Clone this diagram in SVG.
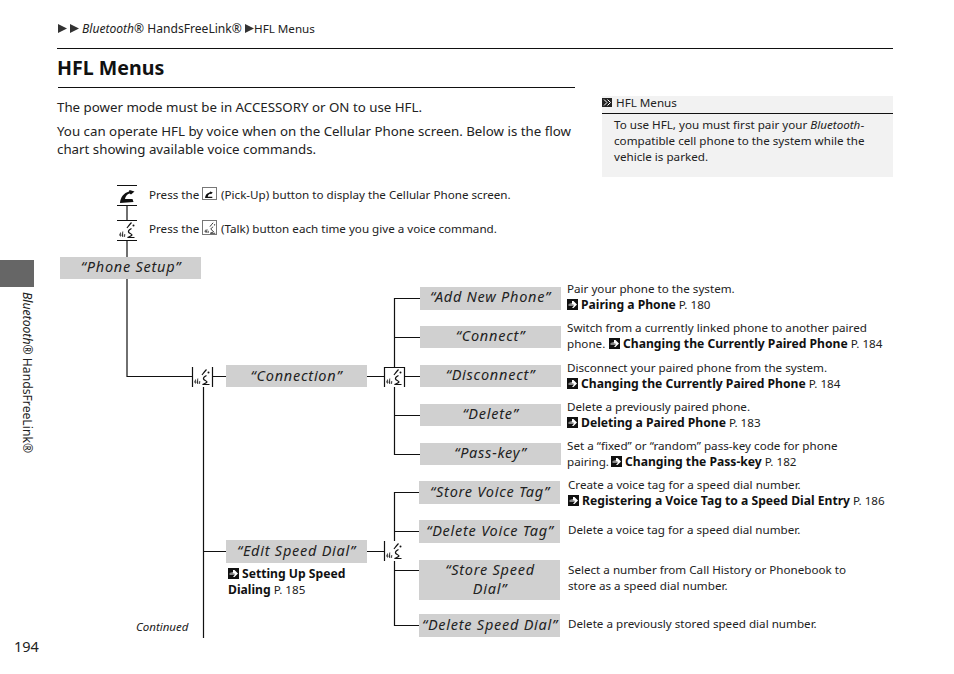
<svg xmlns="http://www.w3.org/2000/svg" width="954" height="674" viewBox="0 0 954 674">
<style>
text{font-family:"Noto Sans","Open Sans","Liberation Sans",sans-serif;fill:#222}
.b{font-size:13.300px}
.s{font-size:11.650px}
.h{font-size:12.100px}
.l{font-size:14.500px;letter-spacing:.75px;font-style:italic;text-anchor:middle}
.n{fill:#d0d0d0}
.w{stroke:#111;stroke-width:1.200;fill:none}
.bd{font-weight:700;fill:#111;font-size:12.150px}
.i{font-style:italic}
</style>
<defs>
<g id="voice">
<path d="M2.500 15l1-2.500v4zM4.800 15.500l1-4v5.500zM7 16.500l.8-2.500v2.500z" fill="#111" stroke="#111" stroke-width=".4"/>
<path d="M10 8c1.500-2 2.500-3.500 4.500-5.500M14.500 8.500c-2 1-3.500 2-3 3.500c.5 1.500 3 1.500 3.500 3c-.5 1-2.500 1.500-4.500 2.500h7" fill="none" stroke="#111" stroke-width="1.200"/>
<circle cx="16.500" cy="5.500" r="1" fill="#111"/>
</g>
<g id="go">
<rect width="11" height="11" fill="#111"/>
<path d="M1.500 4.500h3.500v-2.500h1.500l3.500 3.500-3.500 3.500h-1.500l2-2.500h-5.500v-1h6z" fill="#fff"/>
</g>
<g id="tri"><path d="M0 0l9 4.500-9 4.500z" fill="#333"/></g>
</defs>

<g id="page-header">
<use href="#tri" x="58" y="24"/><use href="#tri" x="70" y="24"/>
<text x="82" y="33" class="h"><tspan class="i">Bluetooth</tspan>® HandsFreeLink®</text>
<use href="#tri" x="245" y="24"/>
<text x="254" y="33" class="s">HFL Menus</text>
<path d="M57 48.500H893" stroke="#111" stroke-width="1.200"/>
<text x="57" y="75" style="font-size:19.600px;font-weight:700;fill:#111">HFL Menus</text>
<path d="M58 87.500H575" stroke="#111" stroke-width="1.200"/>
</g>

<g id="intro">
<text x="57" y="112" class="b">The power mode must be in ACCESSORY or ON to use HFL.</text>
<text x="57" y="136" class="b">You can operate HFL by voice when on the Cellular Phone screen. Below is the flow</text>
<text x="57" y="154" class="b">chart showing available voice commands.</text>
</g>

<g id="side-note">
<rect x="602" y="96" width="291" height="81" fill="#f2f2f2"/>
<path d="M602 113.500H893" stroke="#111" stroke-width="1.200"/>
<rect x="602" y="98" width="10" height="9" fill="#222"/>
<path d="M604 99.500l3 3-3 3M607.500 99.500l3 3-3 3" stroke="#fff" fill="none"/>
<text x="616" y="107" class="s">HFL Menus</text>
<text x="614" y="129" class="s">To use HFL, you must first pair your <tspan class="i">Bluetooth</tspan>-</text>
<text x="614" y="145" class="s">compatible cell phone to the system while the</text>
<text x="614" y="161" class="s">vehicle is parked.</text>
</g>

<g id="tab">
<rect x="0" y="260" width="34" height="27" fill="#666"/>
<text transform="translate(23 292) rotate(90)" style="font-size:12.200px"><tspan class="i">Bluetooth</tspan>® HandsFreeLink®</text>
</g>

<g id="connectors" class="w">
<path d="M117 185.500H137M117 205.500H137M127 205V220M117 220.500H137M117 240.500H137M127 240V257M127 279V376.500H192"/>
<path d="M192.500 367V387M212.500 367V387M212 376.500H226M203.500 387V638M203 551.500H226"/>
<path d="M367 376.500H384M384.500 387V367.500H404.500V387M404 376.500H420"/>
<path d="M394.500 367V298.500H420M394 337.500H420M394.500 387V454.500H420M394 415.500H420"/>
<path d="M367 551.500H384M384.500 541V561"/>
<path d="M394.500 541V492.500H419M394 531.500H419M394.500 561V625.500H419M394 570.500H419"/>
</g>

<g id="legend-pickup">
<path d="M120 203c.5-6 4-10 9-11.500l.5-1.500 5 1.500-3.500 3-1.500-1c-2.500 .8-4 2.500-4.500 5.500h7.500l1 3z" fill="#111"/>
<rect x="202.500" y="187.500" width="14" height="12" fill="#fff" stroke="#777"/>
<path d="M205 198c.2-3 2-5 4.500-5.500l.8-1 2.500 1-1.800 1.800-1-.6c-1 .4-2 1.300-2.200 3h4.500v1.300z" fill="#111"/>
<text x="149" y="199" class="s">Press the</text>
<text x="221" y="199" class="s">(Pick-Up) button to display the Cellular Phone screen.</text>
</g>
<g id="legend-talk">
<use href="#voice" x="117" y="220"/>
<rect x="202.500" y="220.500" width="14" height="14" fill="#fff" stroke="#777"/>
<use href="#voice" transform="translate(203 221) scale(.7)"/>
<text x="149" y="233" class="s">Press the</text>
<text x="221" y="233" class="s">(Talk) button each time you give a voice command.</text>
</g>

<g id="node-phone-setup"><rect class="n" x="60" y="257" width="141" height="22"/><text class="l" x="131" y="272">“Phone Setup”</text></g>
<g id="node-connection"><use href="#voice" x="192" y="367"/><rect class="n" x="226" y="365" width="141" height="22"/><text class="l" x="296.500" y="381">“Connection”</text></g>
<g id="node-edit-speed-dial"><rect class="n" x="226" y="540" width="141" height="23"/><text class="l" x="296.500" y="556">“Edit Speed Dial”</text>
<use href="#go" x="228" y="568"/>
<text x="242" y="578" class="bd">Setting Up Speed</text>
<text x="228" y="594" class="s"><tspan class="bd">Dialing</tspan> P. 185</text>
</g>
<g id="voice-connection"><use href="#voice" x="384" y="367"/></g>
<g id="voice-speed-dial"><use href="#voice" x="384" y="541"/></g>

<g id="node-add-new-phone"><rect class="n" x="420" y="287" width="141" height="23"/><text class="l" x="490.500" y="302">“Add New Phone”</text>
<text x="567" y="293" class="s">Pair your phone to the system.</text>
<use href="#go" x="567" y="299"/><text x="581" y="309" class="s"><tspan class="bd">Pairing a Phone</tspan> P. 180</text></g>
<g id="node-connect"><rect class="n" x="420" y="326" width="141" height="22"/><text class="l" x="490.500" y="341">“Connect”</text>
<text x="567" y="332" class="s">Switch from a currently linked phone to another paired</text>
<text x="567" y="348" class="s">phone.</text><use href="#go" x="609" y="338"/><text x="623" y="348" class="s"><tspan class="bd">Changing the Currently Paired Phone</tspan> P. 184</text></g>
<g id="node-disconnect"><rect class="n" x="420" y="365" width="141" height="22"/><text class="l" x="490.500" y="380">“Disconnect”</text>
<text x="567" y="372" class="s">Disconnect your paired phone from the system.</text>
<use href="#go" x="567" y="378"/><text x="581" y="388" class="s"><tspan class="bd">Changing the Currently Paired Phone</tspan> P. 184</text></g>
<g id="node-delete"><rect class="n" x="420" y="404" width="141" height="22"/><text class="l" x="490.500" y="419">“Delete”</text>
<text x="567" y="411" class="s">Delete a previously paired phone.</text>
<use href="#go" x="567" y="417"/><text x="581" y="427" class="s"><tspan class="bd">Deleting a Paired Phone</tspan> P. 183</text></g>
<g id="node-pass-key"><rect class="n" x="420" y="443" width="141" height="22"/><text class="l" x="490.500" y="458">“Pass-key”</text>
<text x="567" y="450" class="s">Set a “fixed” or “random” pass-key code for phone</text>
<text x="567" y="466" class="s">pairing.</text><use href="#go" x="611" y="456"/><text x="625" y="466" class="s"><tspan class="bd">Changing the Pass-key</tspan> P. 182</text></g>
<g id="node-store-voice-tag"><rect class="n" x="419" y="481" width="141" height="23"/><text class="l" x="490" y="497">“Store Voice Tag”</text>
<text x="568" y="489" class="s">Create a voice tag for a speed dial number.</text>
<use href="#go" x="568" y="495"/><text x="582" y="505" class="s"><tspan class="bd">Registering a Voice Tag to a Speed Dial Entry</tspan> P. 186</text></g>
<g id="node-delete-voice-tag"><rect class="n" x="419" y="520" width="141" height="23"/><text class="l" x="490" y="536">“Delete Voice Tag”</text>
<text x="568" y="534" class="s">Delete a voice tag for a speed dial number.</text></g>
<g id="node-store-speed-dial"><rect class="n" x="419" y="560" width="141" height="40"/><text class="l" x="490" y="575">“Store Speed</text><text class="l" x="490" y="594">Dial”</text>
<text x="568" y="574" class="s">Select a number from Call History or Phonebook to</text>
<text x="568" y="590" class="s">store as a speed dial number.</text></g>
<g id="node-delete-speed-dial"><rect class="n" x="419" y="614" width="141" height="23"/><text class="l" x="490" y="630">“Delete Speed Dial”</text>
<text x="568" y="628" class="s">Delete a previously stored speed dial number.</text></g>

<g id="page-footer">
<text x="136" y="631" style="font-size:11.500px" class="i">Continued</text>
<text x="14" y="652" style="font-size:14.500px">194</text>
</g>
</svg>
